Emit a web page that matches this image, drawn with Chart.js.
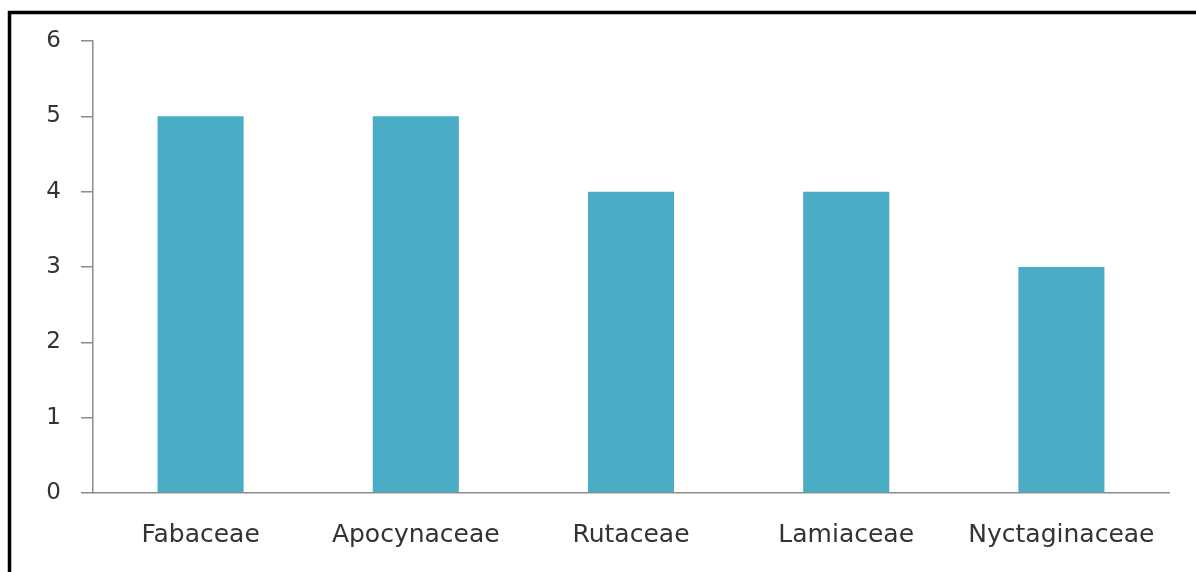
<!DOCTYPE html>
<html>
<head>
<meta charset="utf-8">
<script src="https://cdn.jsdelivr.net/npm/chart.js@4"></script>
<style>
  html, body { margin: 0; padding: 0; background: #fff; }
  #wrap { width: 1196px; height: 572px; }
</style>
</head>
<body>
<div id="wrap"><canvas id="families"></canvas></div>
<script>
var families = ["Fabaceae", "Apocynaceae", "Rutaceae", "Lamiaceae", "Nyctaginaceae"];
var counts = [5, 5, 4, 4, 3];
var yTicks = [0, 1, 2, 3, 4, 5, 6];

// black frame on the left and top edge, like the cropped figure box
var frame = {
  id: "frame",
  beforeDraw: function (chart) {
    var c = chart.ctx;
    c.save();
    c.fillStyle = "#fff";
    c.fillRect(0, 0, chart.width, chart.height);
    c.strokeStyle = "#000";
    c.lineWidth = 3.5;
    c.beginPath();
    c.moveTo(9.5, chart.height);
    c.lineTo(9.5, 12.5);
    c.lineTo(chart.width, 12.5);
    c.stroke();
    c.restore();
  }
};

var ctx = document.getElementById("families");

new Chart(ctx, {
  type: "bar",
  data: {
    labels: families,
    datasets: [
      {
        label: "No. of species",
        data: counts,
        backgroundColor: "#4BACC6",
        borderWidth: 0,
        categoryPercentage: 1,
        barPercentage: 0.4
      }
    ]
  },
  options: {
    responsive: true,
    maintainAspectRatio: false,
    animation: false,
    layout: { padding: { left: 0, top: 41, right: 27, bottom: 0 } },
    plugins: {
      legend: { display: false },
      tooltip: { enabled: false }
    },
    scales: {
      x: {
        grid: { display: false, drawTicks: false },
        border: { display: true, color: "#8c8c8c", width: 1.5 },
        ticks: {
          color: "#333",
          padding: 27,
          font: { family: "DejaVu Sans", size: 25 }
        },
        afterFit: function (scale) { scale.height = 79; }
      },
      y: {
        min: 0,
        max: 6,
        afterBuildTicks: function (scale) {
          scale.ticks = yTicks.map(function (v) { return { value: v }; });
        },
        grid: {
          drawOnChartArea: false,
          drawTicks: true,
          tickLength: 12,
          color: "#8c8c8c",
          lineWidth: 1.5
        },
        border: { display: true, color: "#8c8c8c", width: 1.5 },
        ticks: {
          color: "#333",
          padding: 20,
          font: { family: "DejaVu Sans", size: 23 }
        },
        afterFit: function (scale) { scale.width = 93; }
      }
    }
  },
  plugins: [frame]
});
</script>
</body>
</html>
